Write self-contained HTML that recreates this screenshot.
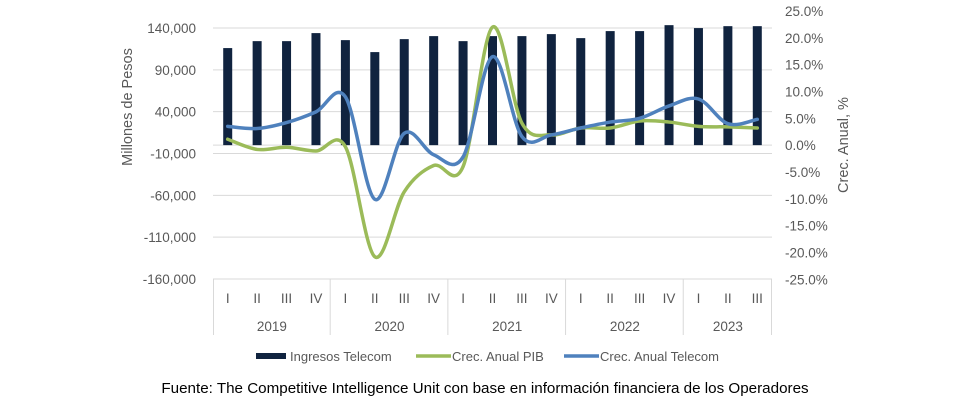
<!DOCTYPE html>
<html><head><meta charset="utf-8"><style>
body{margin:0;background:#fff;width:972px;height:401px;overflow:hidden}
svg{display:block;font-family:"Liberation Sans",sans-serif}
</style></head><body>
<svg id="c" width="972" height="401"></svg>
<script>
const quarters=["I","II","III","IV","I","II","III","IV","I","II","III","IV","I","II","III","IV","I","II","III"];
const years=["2019","2020","2021","2022","2023"];
const yearCounts=[4,4,4,4,3];
const ingresos=[116000,124300,124300,133900,125500,111200,126700,130300,124300,130300,130300,132700,127900,136300,136300,143400,139900,142200,142200];
const pib=[1.1,-0.8,-0.4,-1.1,-0.3,-20.8,-8.7,-3.8,-4.0,22.0,4.1,1.9,3.2,3.2,4.5,4.3,3.5,3.4,3.2];
const telecom=[3.5,3.1,4.2,6.2,9.0,-10.1,2.2,-1.8,-2.2,16.5,1.6,1.9,3.2,4.3,5.0,7.3,8.6,4.0,4.8];
const leftTicks=[140000,90000,40000,-10000,-60000,-110000,-160000];
const rightTicks=[25,20,15,10,5,0,-5,-10,-15,-20,-25];

const NS="http://www.w3.org/2000/svg";
const svg=document.getElementById('c');
const X0=213,X1=772,Y0=28,Y1=279;
const cw=(X1-X0)/quarters.length;
const yL=v=>Y0+(140000-v)/300000*(Y1-Y0);
const yR=v=>yL(0)-v/25*(yL(0)-11);
const xC=i=>X0+cw*(i+0.5);
function el(t,a,txt){const e=document.createElementNS(NS,t);for(const k in a)e.setAttribute(k,a[k]);if(txt!=null)e.textContent=txt;svg.appendChild(e);return e;}
const gray="#595959";
leftTicks.forEach(v=>{
  const g=el('line',{x1:X0,x2:X1,y1:yL(v),y2:yL(v),stroke:'#d9d9d9','stroke-width':1});
  
  
  const t=el('text',{x:196,y:yL(v)+5,'text-anchor':'end','font-size':13.5,fill:gray},v.toLocaleString('en-US'));
  
  
});
const z=el('line',{x1:X0,x2:X1,y1:yL(0),y2:yL(0),stroke:'#d9d9d9','stroke-width':1});


rightTicks.forEach(v=>{
  const t=el('text',{x:785,y:yR(v)+5,'font-size':13.5,fill:gray},v.toFixed(1)+'%');
  
  
});
const lt=el('text',{transform:'translate(132,107) rotate(-90)','text-anchor':'middle','font-size':14.5,fill:gray},'Millones de Pesos');


const rt=el('text',{transform:'translate(848,145) rotate(-90)','text-anchor':'middle','font-size':14.5,fill:gray},'Crec. Anual, %');


ingresos.forEach((v,i)=>{
  const b=el('rect',{x:xC(i)-4.5,y:yL(v),width:9,height:yL(0)-yL(v),fill:'#10233f'});
  
  
});
quarters.forEach((q,i)=>{
  const t=el('text',{x:xC(i),y:303,'text-anchor':'middle','font-size':13.5,fill:gray},q);
  
  
});
let idx=0;
const sep=x=>{const l=el('line',{x1:x,x2:x,y1:Y1,y2:335,stroke:'#d9d9d9','stroke-width':1});
  
  };
sep(X0+0.5);
years.forEach((y,k)=>{
  const a=X0+cw*idx;idx+=yearCounts[k];const b=X0+cw*idx;
  sep(b-0.5);
  const t=el('text',{x:(a+b)/2,y:331,'text-anchor':'middle','font-size':13.5,fill:gray},y);
  
  
});
function smooth(pts){
  let d=`M${pts[0][0]},${pts[0][1]}`;
  for(let i=0;i<pts.length-1;i++){
    const p0=pts[i-1]||pts[i],p1=pts[i],p2=pts[i+1],p3=pts[i+2]||p2,t=6;
    d+=` C${p1[0]+(p2[0]-p0[0])/t},${p1[1]+(p2[1]-p0[1])/t} ${p2[0]-(p3[0]-p1[0])/t},${p2[1]-(p3[1]-p1[1])/t} ${p2[0]},${p2[1]}`;
  }
  return d;
}
const gp=el('path',{d:smooth(pib.map((v,i)=>[xC(i),yR(v)])),fill:'none',stroke:'#9bbb59','stroke-width':3.5,'stroke-linecap':'round'});


const bp=el('path',{d:smooth(telecom.map((v,i)=>[xC(i),yR(v)])),fill:'none',stroke:'#4f81bd','stroke-width':3.5,'stroke-linecap':'round'});


const l1=el('rect',{x:256,y:353,width:30,height:6,fill:'#10233f'});


const t1=el('text',{x:290,y:361,'font-size':13,fill:gray},'Ingresos Telecom');


const l2=el('line',{x1:416,x2:451,y1:356,y2:356,stroke:'#9bbb59','stroke-width':3.5});


const t2=el('text',{x:452,y:361,'font-size':13,fill:gray},'Crec. Anual PIB');


const l3=el('line',{x1:564,x2:599,y1:356,y2:356,stroke:'#4f81bd','stroke-width':3.5});


const t3=el('text',{x:600,y:361,'font-size':13,fill:gray},'Crec. Anual Telecom');


const src=el('text',{x:485,y:393,'text-anchor':'middle','font-size':15.2,fill:'#000'},'Fuente: The Competitive Intelligence Unit con base en información financiera de los Operadores');


</script>
</body></html>
